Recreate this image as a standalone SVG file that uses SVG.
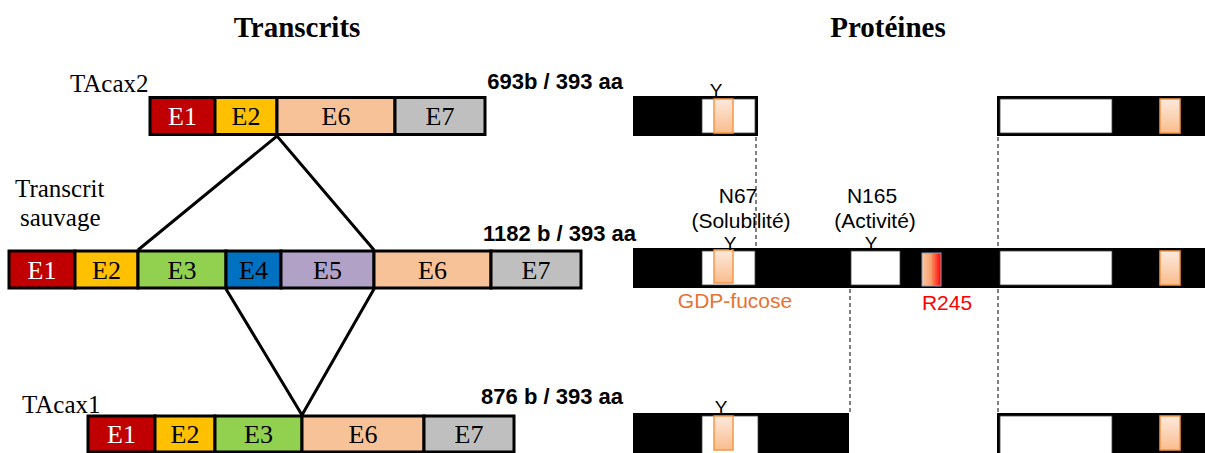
<svg xmlns="http://www.w3.org/2000/svg" width="1205" height="453" viewBox="0 0 1205 453">
<defs>
<linearGradient id="gOr" x1="0" y1="0" x2="0" y2="1"><stop offset="0" stop-color="#FDE9DC"/><stop offset="1" stop-color="#F9BD8D"/></linearGradient>
<linearGradient id="gRed" x1="0" y1="0" x2="1" y2="0"><stop offset="0" stop-color="#FAC8A0"/><stop offset="0.45" stop-color="#F9A070"/><stop offset="1" stop-color="#FF0000"/></linearGradient>
<style>
.ex{stroke:#000;stroke-width:3}
.e1{fill:#C00000}.e2{fill:#FFC000}.e3{fill:#92D050}.e4{fill:#0070C0}.e5{fill:#B2A1C7}.e6{fill:#F8C298}.e7{fill:#BFBFBF}
.el{font-family:"Liberation Serif",serif;font-size:26px;text-anchor:middle;fill:#000}
.w{fill:#fff}
.nm{font-family:"Liberation Serif",serif;font-size:25px;fill:#000}
.ttl{font-family:"Liberation Serif",serif;font-size:29px;font-weight:bold;text-anchor:middle}
.sz{font-family:"Liberation Sans",Arial,sans-serif;font-size:22px;font-weight:bold;text-anchor:end}
.bar{fill:#000}
.wb{fill:#fff;stroke:#444;stroke-width:0.8}
.ob{fill:url(#gOr);stroke:#F79646;stroke-width:1.5}
.rb{fill:url(#gRed);stroke:#8EA0C0;stroke-width:1}
.y{font-family:"Liberation Sans",Arial,sans-serif;font-size:19px;text-anchor:middle}
.pl{font-family:"Liberation Sans",Arial,sans-serif;font-size:21px;text-anchor:middle}
.sp{stroke:#000;stroke-width:3;fill:none}
.ds{stroke:#000;stroke-width:1;stroke-dasharray:4 3;fill:none}
</style>
</defs>
<rect width="1205" height="453" fill="#fff"/>
<text class="ttl" x="297" y="37">Transcrits</text>
<text class="ttl" x="888" y="37">Protéines</text>

<g id="connectors">
<polyline class="sp" points="138,250 277,136 374,250"/>
<polyline class="sp" points="226,289 302,415 374,289"/>
<line class="ds" x1="756" y1="137" x2="756" y2="247"/>
<line class="ds" x1="998" y1="137" x2="998" y2="247"/>
<line class="ds" x1="850" y1="289" x2="850" y2="412"/>
<line class="ds" x1="998" y1="289" x2="998" y2="412"/>
</g>

<g id="tacax2">
<text class="nm" x="70" y="92">TAcax2</text>
<text class="sz" x="623" y="89">693b / 393 aa</text>
<g id="t2-e1"><rect class="ex e1" x="150" y="97.5" width="65" height="37"/><text class="el w" x="182.5" y="125">E1</text></g>
<g id="t2-e2"><rect class="ex e2" x="215" y="97.5" width="62" height="37"/><text class="el" x="246" y="125">E2</text></g>
<g id="t2-e6"><rect class="ex e6" x="277" y="97.5" width="118" height="37"/><text class="el" x="336" y="125">E6</text></g>
<g id="t2-e7"><rect class="ex e7" x="395" y="97.5" width="90" height="37"/><text class="el" x="440" y="125">E7</text></g>
</g>

<g id="sauvage">
<text class="nm" x="15" y="197">Transcrit</text>
<text class="nm" x="20" y="226">sauvage</text>
<text class="sz" x="636" y="241">1182 b / 393 aa</text>
<g id="ts-e1"><rect class="ex e1" x="9" y="251" width="66" height="37"/><text class="el w" x="42" y="278.5">E1</text></g>
<g id="ts-e2"><rect class="ex e2" x="75" y="251" width="63" height="37"/><text class="el" x="106.5" y="278.5">E2</text></g>
<g id="ts-e3"><rect class="ex e3" x="138" y="251" width="88" height="37"/><text class="el" x="182" y="278.5">E3</text></g>
<g id="ts-e4"><rect class="ex e4" x="226" y="251" width="55" height="37"/><text class="el" x="253.5" y="278.5">E4</text></g>
<g id="ts-e5"><rect class="ex e5" x="281" y="251" width="93" height="37"/><text class="el" x="327.5" y="278.5">E5</text></g>
<g id="ts-e6"><rect class="ex e6" x="374" y="251" width="117" height="37"/><text class="el" x="432.5" y="278.5">E6</text></g>
<g id="ts-e7"><rect class="ex e7" x="491" y="251" width="90" height="37"/><text class="el" x="536" y="278.5">E7</text></g>
</g>

<g id="tacax1">
<text class="nm" x="22" y="413">TAcax1</text>
<text class="sz" x="623" y="404">876 b / 393 aa</text>
<g id="t1-e1"><rect class="ex e1" x="88" y="416" width="67" height="36"/><text class="el w" x="121.5" y="443">E1</text></g>
<g id="t1-e2"><rect class="ex e2" x="155" y="416" width="60" height="36"/><text class="el" x="185" y="443">E2</text></g>
<g id="t1-e3"><rect class="ex e3" x="215" y="416" width="87" height="36"/><text class="el" x="258.5" y="443">E3</text></g>
<g id="t1-e6"><rect class="ex e6" x="302" y="416" width="122" height="36"/><text class="el" x="363" y="443">E6</text></g>
<g id="t1-e7"><rect class="ex e7" x="424" y="416" width="90" height="36"/><text class="el" x="469" y="443">E7</text></g>
</g>

<g id="prot-tacax2">
<rect class="bar" x="633" y="96" width="125" height="40"/>
<rect class="wb" x="702" y="99" width="53" height="34"/>
<rect class="ob" x="714" y="99" width="19" height="34"/>
<text class="y" x="716" y="97">Y</text>
<rect class="bar" x="997" y="96" width="208" height="40"/>
<rect class="wb" x="1000" y="99" width="112" height="34"/>
<rect class="ob" x="1160" y="99" width="20" height="34"/>
</g>

<g id="prot-sauvage">
<rect class="bar" x="633" y="248" width="572" height="40"/>
<rect class="wb" x="702" y="251" width="53" height="34"/>
<rect class="wb" x="851" y="251" width="49" height="34"/>
<rect class="wb" x="1000" y="251" width="112" height="34"/>
<rect class="ob" x="714" y="250" width="19" height="33"/>
<rect class="rb" x="922" y="253" width="19" height="33"/>
<rect class="ob" x="1160" y="251" width="20" height="34"/>
<text class="y" x="730" y="249.5">Y</text>
<text class="y" x="871" y="249.5">Y</text>
<text class="pl" x="738" y="203">N67</text>
<text class="pl" x="741" y="228">(Solubilité)</text>
<text class="pl" x="872" y="203">N165</text>
<text class="pl" x="875" y="228">(Activité)</text>
<text class="pl" x="735" y="308" fill="#E97132">GDP-fucose</text>
<text class="pl" x="947" y="310" fill="#FF0000">R245</text>
</g>

<g id="prot-tacax1">
<rect class="bar" x="633" y="413" width="216" height="42"/>
<rect class="wb" x="702" y="416" width="56" height="40"/>
<rect class="ob" x="714" y="416" width="19" height="34"/>
<text class="y" x="721" y="414">Y</text>
<rect class="bar" x="997" y="413" width="208" height="42"/>
<rect class="wb" x="1000" y="416" width="112" height="40"/>
<rect class="ob" x="1160" y="416" width="20" height="34"/>
</g>
</svg>
